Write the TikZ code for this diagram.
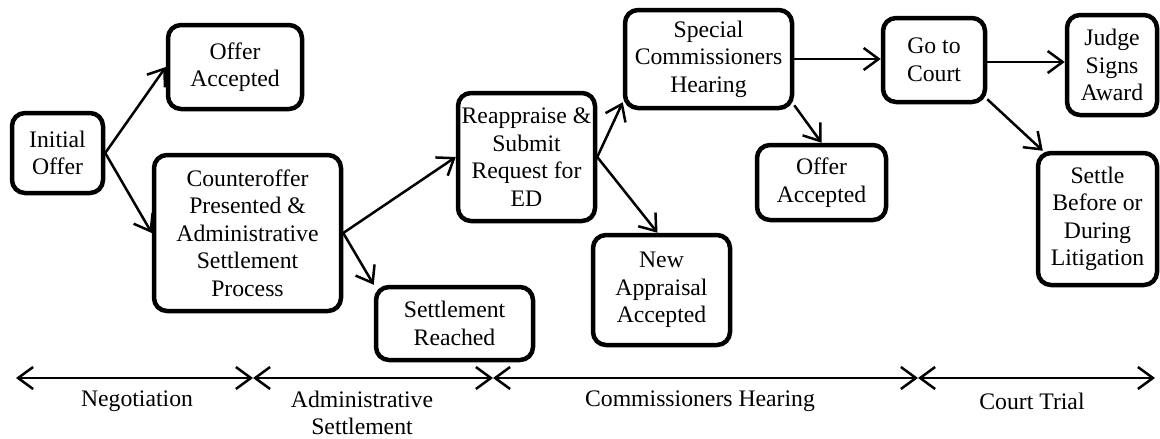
\documentclass[tikz,border=0pt]{standalone}
\usepackage{fontspec}
\setmainfont{Liberation Serif}
\usetikzlibrary{arrows.meta}
\tikzset{
  box/.style={draw, line width=4.5pt, rounded corners=13pt, align=center, inner sep=1pt,
    font=\fontsize{23.7}{27.5}\selectfont},
  lbl/.style={align=center, inner sep=0pt, font=\fontsize{23.7}{26.5}\selectfont},
  conn/.style={-{Straight Barb[length=15pt,width=22pt]}, line width=2.5pt},
  span/.style={{Straight Barb[length=15pt,width=22pt]}-{Straight Barb[length=15pt,width=22pt]}, line width=2.5pt}
}
\begin{document}
\begin{tikzpicture}[x=1pt,y=-1pt]
\useasboundingbox (0,0) rectangle (1160,439);
% boxes
\node[box, minimum width=91pt, minimum height=80pt] (init) at (57.5,153) {Initial\\Offer};
\node[box, minimum width=134pt, minimum height=84pt] (oa1) at (235,67) {Offer\\Accepted};
\node[box, minimum width=187pt, minimum height=156pt] (counter) at (247.5,233) {Counteroffer\\Presented \&\\Administrative\\Settlement\\Process};
\node[box, minimum width=157pt, minimum height=73pt] (sr) at (454.5,323.5) {Settlement\\Reached};
\node[box, minimum width=137pt, minimum height=128pt] (reap) at (526.5,157) {Reappraise \&\\Submit\\Request for\\ED};
\node[box, minimum width=167pt, minimum height=98pt] (special) at (708.5,59) {Special\\Commissioners\\Hearing};
\node[box, minimum width=137pt, minimum height=110pt] (newapp) at (661.5,290) {New\\Appraisal\\Accepted};
\node[box, minimum width=129pt, minimum height=75pt] (oa2) at (821.5,182.5) {Offer\\Accepted};
\node[box, minimum width=102pt, minimum height=84pt] (court) at (934,60) {Go to\\Court};
\node[box, minimum width=90pt, minimum height=100pt] (judge) at (1112,65) {Judge\\Signs\\Award};
\node[box, minimum width=119pt, minimum height=132pt] (settle) at (1097.5,219) {Settle\\Before or\\During\\Litigation};
% connectors
\draw[conn] (init.east) -- (oa1.west);
\draw[conn] (init.east) -- (counter.west);
\draw[conn] (counter.east) -- (reap.west);
\draw[conn] (counter.east) -- (sr.north west);
\draw[conn] (reap.east) -- ([yshift=8pt]special.south west);
\draw[conn] (reap.east) -- ([xshift=-4pt]newapp.north);
\draw[conn] (special.east) -- (special.east -| court.west);
\draw[conn] ([yshift=5pt]special.south east) -- (oa2.north);
\draw[conn] ([yshift=-2pt]court.east) -- ([yshift=-2pt]court.east -| judge.west);
\draw[conn] ([yshift=5pt]court.south east) -- ([xshift=7pt]settle.north west);
% timeline
\coordinate (t0) at (16,378);
\coordinate (t1) at (253,378);
\coordinate (t2) at (493,378);
\coordinate (t3) at (918,378);
\coordinate (t4) at (1155,378);
\draw[span] (t0) -- (t1);
\draw[span] (t1) -- (t2);
\draw[span] (t2) -- (t3);
\draw[span] (t3) -- (t4);
\node[lbl] (l1) at (137,401) {Negotiation};
\node[lbl] (l2) at (362,413) {Administrative\\Settlement};
\node[lbl] (l3) at (700,401) {Commissioners Hearing};
\node[lbl] (l4) at (1032,401) {Court Trial};
\end{tikzpicture}
\end{document}
